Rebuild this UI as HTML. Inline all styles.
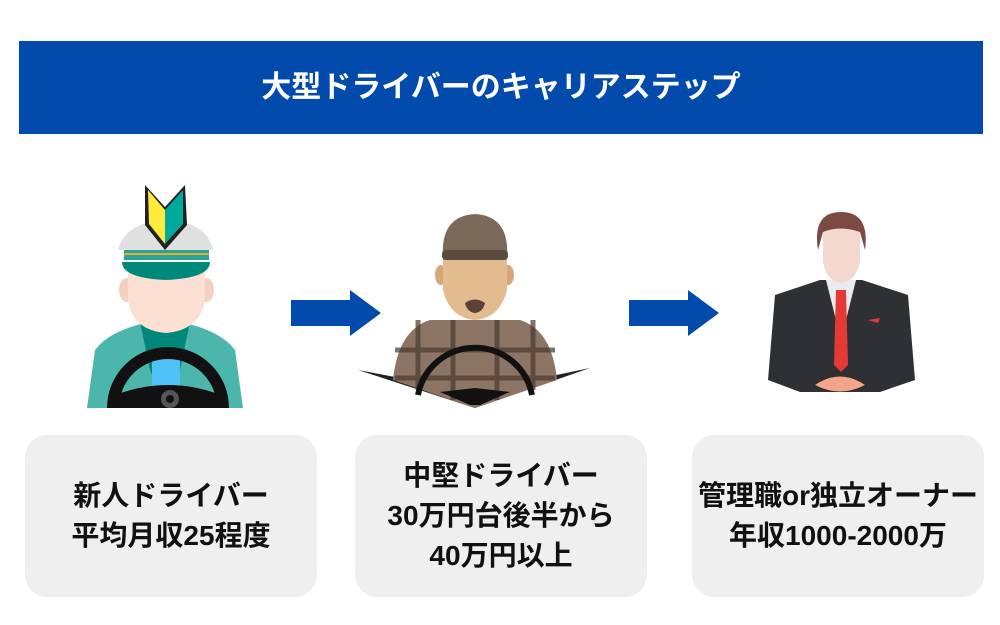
<!DOCTYPE html>
<html><head><meta charset="utf-8"><style>
body{margin:0;width:1000px;height:625px;background:#fff;position:relative;overflow:hidden;font-family:"Liberation Sans","Noto Sans CJK JP",sans-serif;}
.hdr{position:absolute;left:19px;top:41px;width:964px;height:93px;background:#034aad;color:#fff;font-weight:bold;font-size:30px;text-align:center;line-height:93px;}
.box{position:absolute;top:435px;height:162px;width:292px;background:#efefef;border-radius:22px;display:flex;align-items:center;justify-content:center;text-align:center;font-weight:bold;font-size:28px;line-height:40px;color:#111;white-space:nowrap;}
svg{position:absolute;left:0;top:0;}
</style></head><body>
<div class="hdr">大型ドライバーのキャリアステップ</div>
<svg width="1000" height="625">
<polygon points="291,300 350,300 350,290 381,313 350,336 350,326 291,326" fill="#034aad"/>
<polygon points="629,300 688,300 688,290 719,313 688,336 688,326 629,326" fill="#034aad"/>
<!-- figure 1 -->
<path d="M87,408 L95,350 Q110,330 150,322 L180,322 Q220,330 235,350 L243,408 Z" fill="#4db6ac"/>
<path d="M140,322 L150,370 L165,408 L180,370 L190,322 Z" fill="#00897b"/>
<rect x="152" y="355" width="28" height="53" fill="#4fc3f7"/>
<ellipse cx="127" cy="290" rx="8" ry="12" fill="#f5cfc0"/><ellipse cx="206" cy="290" rx="8" ry="12" fill="#f5cfc0"/>
<path d="M128,268 L205,268 L205,300 Q200,330 166,333 Q132,330 128,300 Z" fill="#fbe0d3"/>
<path d="M118,250 Q125,222 166,220 Q207,222 213,250 Z" fill="#e0e0e0"/>
<rect x="124" y="250" width="85" height="10" fill="#26a69a"/>
<rect x="124" y="253" width="85" height="2" fill="#f5a623"/>
<path d="M122,262 L210,262 Q210,278 166,280 Q122,278 122,262 Z" fill="#00897b"/>
<path d="M145,185 L165,207 L185,185 L187,225 L165,250 L145,225 Z" fill="#222"/>
<path d="M148,190 L165,210 L165,244 L149,224 Z" fill="#ffeb3b"/>
<path d="M165,210 L183,190 L183,224 L165,244 Z" fill="#00a99d"/>
<path d="M113,408 A55,55 0 0 1 223,408" fill="none" stroke="#111" stroke-width="12"/>
<path d="M115,395 Q168,375 221,395 L221,408 L115,408 Z" fill="#111"/>
<circle cx="170" cy="399" r="9" fill="#555"/><circle cx="170" cy="399" r="4" fill="#111"/>
<!-- figure 2 -->
<polygon points="358,370 475,408 590,368 475,392" fill="#222"/>
<path d="M393,380 Q398,330 430,320 L520,320 Q552,330 557,380 L475,408 Z" fill="#8d7565"/>
<g stroke="#4a3a30" stroke-width="5" opacity=".7"><line x1="418" y1="320" x2="418" y2="390"/><line x1="453" y1="320" x2="453" y2="400"/><line x1="497" y1="320" x2="497" y2="400"/><line x1="533" y1="320" x2="533" y2="390"/><line x1="395" y1="350" x2="555" y2="350"/><line x1="395" y1="378" x2="555" y2="378"/></g>
<ellipse cx="441" cy="275" rx="6" ry="10" fill="#d4a878"/><ellipse cx="508" cy="275" rx="6" ry="10" fill="#d4a878"/>
<path d="M443,255 L507,255 L507,290 Q500,318 475,320 Q450,318 443,290 Z" fill="#e2bb8e"/>
<path d="M465,303 Q475,296 485,303 Q483,312 475,313 Q467,312 465,303 Z" fill="#5a4238"/>
<path d="M443,258 Q440,216 475,214 Q510,216 507,258 Z" fill="#7b6a5a"/>
<rect x="442" y="250" width="66" height="10" rx="4" fill="#5a4a40"/>
<path d="M418,395 A58,58 0 0 1 532,395" fill="none" stroke="#111" stroke-width="6"/>
<path d="M440,392 L475,388 L510,392 L480,405 L470,405 Z" fill="#111"/>
<!-- figure 3 -->
<path d="M768,380 L775,295 L820,280 L862,280 L908,295 L915,380 L880,392 L800,392 Z" fill="#2f3033"/>
<path d="M826,280 L841,340 L856,280 Z" fill="#e8ecef"/>
<path d="M836,290 L846,290 L848,365 L841,372 L834,365 Z" fill="#e53935"/>
<path d="M868,320 L880,318 L878,323 Z" fill="#e53935"/>
<path d="M815,385 Q840,368 865,385 Q840,398 815,385 Z" fill="#f4a58a"/>
<path d="M823,228 L860,228 L860,262 Q855,282 841,283 Q827,282 823,262 Z" fill="#f4d8d0"/>
<path d="M818,250 Q812,212 841,212 Q870,212 865,250 L860,232 Q840,225 823,232 Z" fill="#7b4a42"/>
</svg>
<div class="box" style="left:25px">新人ドライバー<br>平均月収25程度</div>
<div class="box" style="left:355px">中堅ドライバー<br>30万円台後半から<br>40万円以上</div>
<div class="box" style="left:692px">管理職or独立オーナー<br>年収1000-2000万</div>
</body></html>
